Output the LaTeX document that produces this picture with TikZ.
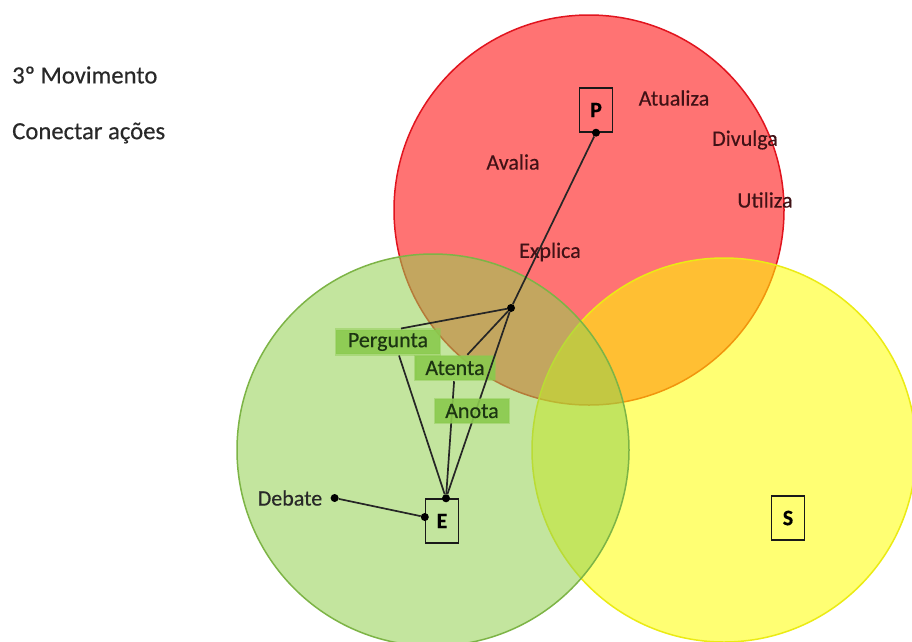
\documentclass[tikz,border=0pt]{standalone}
\usepackage{fontspec}
\setmainfont{Carlito}
\newfontfamily\inkfont{Carlito}[FakeBold=0.4]
\usetikzlibrary{positioning, calc}
\definecolor{redset}{RGB}{255,0,0}
\definecolor{greenset}{RGB}{146,208,80}
\definecolor{yellowset}{RGB}{255,255,0}
\definecolor{redline}{RGB}{225,20,30}
\definecolor{greenline}{RGB}{125,180,70}
\definecolor{yellowline}{RGB}{235,235,20}
\definecolor{taggreen}{RGB}{138,202,78}
\definecolor{inktext}{RGB}{40,40,40}
\definecolor{redink}{RGB}{65,18,22}
\definecolor{tagink}{RGB}{28,52,18}
\tikzset{
every node/.style={font=\inkfont\fontsize{22}{26}\selectfont, text=inktext}, % all words in the same size
big/.style={font=\inkfont\fontsize{24.7}{28}\selectfont, inner sep=0pt, anchor=west}, % the two lines on the left
set/.style={line width=1.5pt, fill opacity=0.55}, % the three circles
action/.style={inner sep=0pt, text=redink}, % words inside the red circle
tag/.style={fill=taggreen, draw=taggreen, draw opacity=0.45, line width=2.5pt, fill opacity=0.9, text opacity=1, text=tagink, inner xsep=10pt, minimum height=24pt}, % highlighted words
actor/.style={draw=black!90, line width=1.4pt, minimum width=33pt, minimum height=44pt, font=\inkfont\fontsize{22}{26}\selectfont\bfseries, text=black}, % P, E and S
dot/.style={circle, fill=black, inner sep=0pt, minimum size=8pt}, % joints
link/.style={line width=1.7pt, draw=black!85}, % connectors
}

\begin{document}
\begin{tikzpicture}[x=1pt, y=-1pt]
    \clip (0,0) rectangle (912,641);
    \fill[white] (0,0) rectangle (912,641);
    % the three circles, red first, then yellow, then green
    \draw[set, draw=redline, fill=redset] (589,210) circle[radius=195pt];
    \draw[set, draw=yellowline, fill=yellowset] (724,450) circle[radius=192pt];
    \draw[set, draw=greenline, fill=greenset] (433,450) circle[radius=196pt];

    \node[big] (title) at (12,75) {3º Movimento};
    \node[big] (task) at (12,133) {Conectar ações};

    \node[action] (atualiza) at (674,98) {Atualiza};
    \node[action] (divulga) at (745,140) {Divulga};
    \node[action] (utiliza) at (765,200) {Utiliza};
    \node[action] (avalia) at (513,162) {Avalia};
    \node[action] (explica) at (550,252) {Explica};

    \node[actor] (p) at (596,110) {P};
    \node[actor] (e) at (442,521) {E};
    \node[actor] (s) at (788,518) {S};

    \node[tag, inner xsep=12pt] (pergunta) at (388,342) {Pergunta};
    \node[tag] (atenta) at (455,368) {Atenta};

    \node[dot] (pdot) at (p.south) {};
    \node[dot] (hub) at (511,308) {};
    \node[dot] (etop) at ($(e.north)+(4,0)$) {};
    \node[dot] (eleft) at ($(e.west)+(0,-4)$) {};
    \node[inner sep=0pt] (debate) at (290,498) {Debate};
    \node[dot, right=8pt of debate] (ddot) {};

    \draw[link] (pdot) -- (hub);
    \draw[link] (hub) -- ($(pergunta.north)+(13,0)$);
    \draw[link] (hub) -- (atenta);
    \draw[link] (hub) -- (etop);
    \draw[link] ($(pergunta.south)+(11,0)$) -- (etop);
    \draw[link] (atenta) -- (etop);
    \draw[link] (ddot) -- (eleft);

    \node[tag] (anota) at (472,411) {Anota};
  \end{tikzpicture}
\end{document}
